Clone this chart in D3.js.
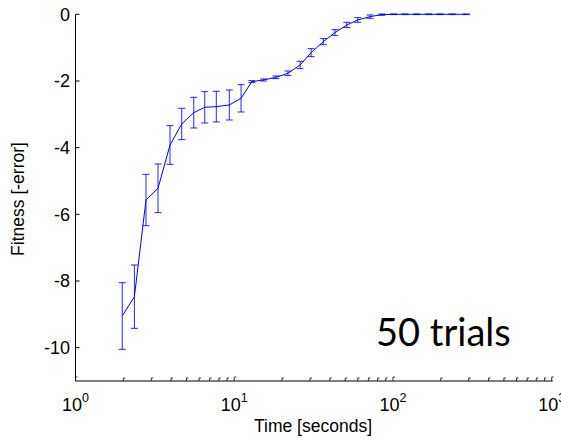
<!DOCTYPE html>
<html><head><meta charset="utf-8">
<script src="https://cdn.jsdelivr.net/npm/d3@7"></script>
<style>body{margin:0;background:#fff}svg{display:block}</style>
</head><body>
<svg id="c" width="561" height="441"></svg>
<script>
const times = [1.97,2.35,2.78,3.31,3.94,4.67,5.56,6.52,7.71,9.31,11.04,12.9,15.3,18.3,21.8,26.0,30.5,36.4,43.1,51.2,60.0,71.7,85.0,100.7,119,141,168,198,236,290];
const fitness = [-9.05,-8.47,-5.57,-5.22,-3.92,-3.29,-2.95,-2.79,-2.77,-2.72,-2.52,-2.02,-1.97,-1.89,-1.77,-1.52,-1.15,-0.82,-0.55,-0.32,-0.17,-0.07,-0.01,0,0,0,0,0,0,0];
const errors = [1.0,0.95,0.77,0.73,0.58,0.47,0.46,0.47,0.46,0.45,0.41,0.03,0.03,0.04,0.07,0.11,0.12,0.09,0.09,0.08,0.07,0.05,0.02,0.01,0.01,0.01,0.01,0.01,0.01,0.01];
const yTicks = [0,-2,-4,-6,-8,-10];
const xTickExps = [0,1,2,3];

const svg = d3.select("#c");
const x = d3.scaleLog().domain([1,1000]).range([75.5,551.7]);
const y = d3.scaleLinear().domain([-11,0]).range([381,14.3]);
const font = "Liberation Sans, Arial, sans-serif";

// axes lines
svg.append("line").attr("x1",x(1)).attr("x2",x(1)).attr("y1",y(0)).attr("y2",y(-11)).attr("stroke","#000");
svg.append("line").attr("x1",x(1)).attr("x2",x(1000)+1).attr("y1",y(-11)).attr("y2",y(-11)).attr("stroke","#000");

// y ticks
yTicks.forEach(v=>{
  svg.append("line").attr("x1",x(1)).attr("x2",x(1)+4).attr("y1",y(v)).attr("y2",y(v)).attr("stroke","#000");
  svg.append("text").attr("x",70).attr("y",y(v)).attr("dy","0.36em").attr("text-anchor","end")
    .attr("font-family",font).attr("font-size",18).text(v===0?"0":"-"+Math.abs(v));
});

// x ticks (major + minor)
const minor = [];
for(let e=0;e<3;e++) for(let m=2;m<=9;m++) minor.push(m*Math.pow(10,e));
minor.forEach(t=>{
  svg.append("path").attr("d",`M${x(t)},${y(-11)}v-3h2`).attr("stroke","#000").attr("fill","none").attr("stroke-width",0.8);
});
xTickExps.forEach(e=>{
  const t = Math.pow(10,e);
  svg.append("path").attr("d",`M${x(t)},${y(-11)}v-4h2`).attr("stroke","#000").attr("fill","none").attr("stroke-width",0.8);
  const tx = svg.append("text").attr("x",x(t)).attr("y",411).attr("text-anchor","middle")
    .attr("font-family",font).attr("font-size",18);
  tx.append("tspan").text("10");
  tx.append("tspan").attr("dy",-9).attr("font-size",12.5).text(e);
});

// axis labels
svg.append("text").attr("x",313).attr("y",432).attr("text-anchor","middle")
  .attr("font-family",font).attr("font-size",17.5).text("Time [seconds]");
svg.append("text").attr("transform","translate(24,199) rotate(-90)").attr("text-anchor","middle")
  .attr("font-family",font).attr("font-size",17.5).text("Fitness [-error]");

// data
const data = times.map((t,i)=>({t, v:fitness[i], e:errors[i]}));
const g = svg.append("g").attr("stroke","#0000ff").attr("fill","none").attr("stroke-width",1);
g.append("path").attr("d", d3.line().x(d=>x(d.t)).y(d=>y(d.v))(data));
data.forEach(d=>{
  const cx = x(d.t), y1 = y(d.v+d.e), y2 = y(d.v-d.e);
  g.append("path").attr("d",`M${cx},${y1}V${y2}M${cx-3.5},${y1}H${cx+3.5}M${cx-3.5},${y2}H${cx+3.5}`).attr("stroke-opacity",0.85);
});

// annotation
svg.append("text").attr("x",376).attr("y",346).attr("font-family","Lato, Carlito, sans-serif")
  .attr("font-size",38).attr("fill","#000").text("50 trials");
</script>
</body></html>
